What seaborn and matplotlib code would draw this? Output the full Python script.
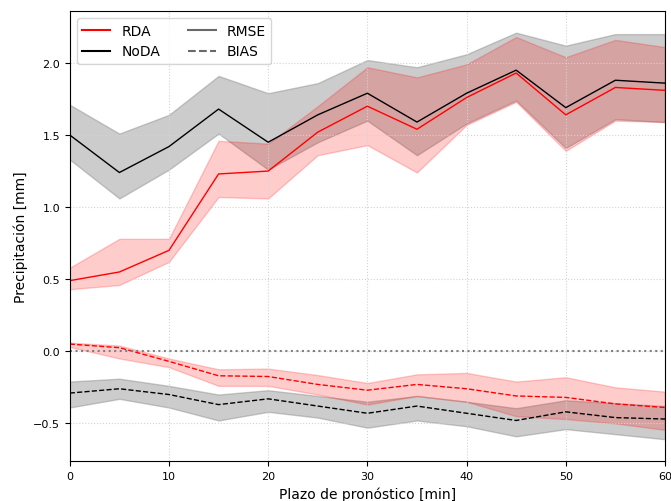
import pandas as pd
import seaborn as sns
import matplotlib.pyplot as plt
from matplotlib.lines import Line2D

plazo = [0, 5, 10, 15, 20, 25, 30, 35, 40, 45, 50, 55, 60]

# RMSE
rmse_rda = [0.49, 0.55, 0.70, 1.23, 1.25, 1.52, 1.70, 1.54, 1.76, 1.93, 1.64, 1.83, 1.81]
rmse_rda_hi = [0.58, 0.78, 0.78, 1.46, 1.44, 1.70, 1.97, 1.90, 1.99, 2.18, 2.04, 2.16, 2.11]
rmse_rda_lo = [0.43, 0.46, 0.62, 1.07, 1.06, 1.36, 1.43, 1.24, 1.57, 1.73, 1.39, 1.60, 1.59]
rmse_noda = [1.50, 1.24, 1.42, 1.68, 1.45, 1.64, 1.79, 1.59, 1.79, 1.95, 1.69, 1.88, 1.86]
rmse_noda_hi = [1.71, 1.51, 1.64, 1.91, 1.79, 1.86, 2.02, 1.97, 2.06, 2.21, 2.12, 2.20, 2.20]
rmse_noda_lo = [1.33, 1.06, 1.26, 1.51, 1.26, 1.45, 1.60, 1.36, 1.58, 1.74, 1.41, 1.61, 1.59]

# BIAS
bias_rda = [0.05, 0.025, -0.07, -0.17, -0.175, -0.23, -0.27, -0.23, -0.26, -0.31, -0.32, -0.365, -0.39]
bias_rda_hi = [0.06, 0.04, -0.05, -0.125, -0.12, -0.165, -0.22, -0.16, -0.15, -0.21, -0.18, -0.25, -0.28]
bias_rda_lo = [0.03, -0.05, -0.11, -0.24, -0.24, -0.30, -0.37, -0.31, -0.35, -0.45, -0.47, -0.50, -0.545]
bias_noda = [-0.29, -0.26, -0.30, -0.37, -0.33, -0.38, -0.43, -0.38, -0.43, -0.48, -0.42, -0.46, -0.47]
bias_noda_hi = [-0.21, -0.19, -0.24, -0.30, -0.27, -0.31, -0.35, -0.31, -0.35, -0.395, -0.34, -0.36, -0.38]
bias_noda_lo = [-0.39, -0.33, -0.39, -0.48, -0.42, -0.46, -0.53, -0.48, -0.52, -0.59, -0.54, -0.575, -0.61]

fig = plt.figure(figsize=(6.71, 5.02), dpi=100)
ax = fig.add_axes([0.104, 0.080, 0.887, 0.896])

series = [
    ("NoDA", rmse_noda, rmse_noda_lo, rmse_noda_hi, "black", "gray", 0.4, "-"),
    ("NoDA", bias_noda, bias_noda_lo, bias_noda_hi, "black", "gray", 0.4, "--"),
    ("RDA", rmse_rda, rmse_rda_lo, rmse_rda_hi, "red", "red", 0.2, "-"),
    ("RDA", bias_rda, bias_rda_lo, bias_rda_hi, "red", "red", 0.2, "--"),
]

for name, y, lo, hi, c, fc, a, ls in series:
    ax.fill_between(plazo, lo, hi, color=fc, alpha=a, linewidth=1)
    sns.lineplot(x=plazo, y=y, color=c, linestyle=ls, linewidth=1, ax=ax)

ax.axhline(0, color="gray", linestyle=":", linewidth=1.5)

ax.set_xlim(0, 60)
ax.set_ylim(-0.76, 2.36)
ax.set_xticks([0, 10, 20, 30, 40, 50, 60])
ax.set_yticks([-0.5, 0.0, 0.5, 1.0, 1.5, 2.0])
ax.grid(True, linestyle=":", color="lightgray", linewidth=0.8)
ax.tick_params(labelsize=8)
ax.set_xlabel("Plazo de pronóstico [min]", fontsize=10)
ax.set_ylabel("Precipitación [mm]", fontsize=10)

handles = [
    Line2D([], [], color="red", linewidth=1.5, label="RDA"),
    Line2D([], [], color="black", linewidth=1.5, label="NoDA"),
    Line2D([], [], color="dimgray", linewidth=1.5, linestyle="-", label="RMSE"),
    Line2D([], [], color="dimgray", linewidth=1.5, linestyle="--", label="BIAS"),
]
ax.legend(handles=handles, ncol=2, loc="upper left", fontsize=10)

plt.savefig("out.png", dpi=100)
